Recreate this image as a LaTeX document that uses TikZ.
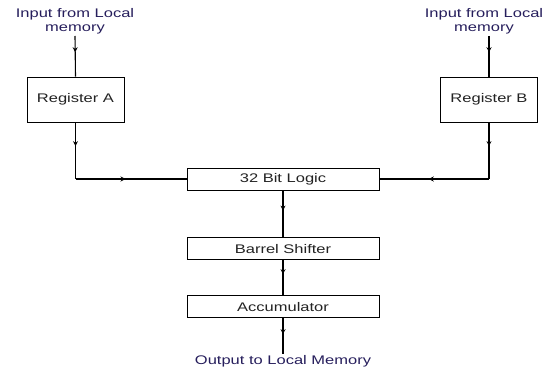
\documentclass[tikz,border=0pt]{standalone}
\usepackage{fontspec}
\setmainfont{Liberation Sans}
\usetikzlibrary{arrows.meta,decorations.markings,positioning}
\newcommand{\wtxt}[1]{\scalebox{1.32}[1]{#1}}
\definecolor{lblblue}{RGB}{38,30,92}
\definecolor{boxtext}{RGB}{35,35,35}

\begin{document}
\begin{tikzpicture}[x=1pt,y=1pt,line width=1.1pt,
                    midarrow/.style={postaction={decorate},decoration={markings,
                      mark=at position #1 with {\arrow{Stealth[length=5pt,width=5pt]}}}},
                    midarrow/.default=0.45]
  \tikzstyle{regbox}=[rectangle,draw=black,line width=0.8pt,fill=white,
                      minimum width=97pt,minimum height=45pt,inner sep=0pt,
                      font=\fontsize{12.5}{14}\selectfont,text=boxtext]
  \tikzstyle{unit}=[rectangle,draw=black,line width=0.8pt,fill=white,
                    minimum width=192pt,minimum height=22pt,inner sep=0pt,
                    font=\fontsize{12.5}{14}\selectfont,text=boxtext]
  \tikzstyle{lbl}=[align=center,inner sep=1pt,
                   font=\fontsize{12.5}{14}\selectfont,text=lblblue]

  \useasboundingbox (0,0) rectangle (545,373);

  \node[regbox] (A)      at (75.5,273.5)          {\wtxt{Register A}};
  \node[regbox] (B)      at (489,273.5)           {\wtxt{Register B}};
  \node[unit]   (logic)  at (283,194)             {\wtxt{32 Bit Logic}};
  \node[unit]   (barrel) [below=47pt of logic]    {\wtxt{Barrel Shifter}};
  \node[unit]   (acc)    [below=35pt of barrel]   {\wtxt{Accumulator}};

  \node[lbl,anchor=south] (inA) at (75,337)  {\wtxt{Input from Local}\\\wtxt{memory}};
  \node[lbl,anchor=south] (inB) at (484,337) {\wtxt{Input from Local}\\\wtxt{memory}};
  \node[lbl,anchor=north] (out) at (283,19)  {\wtxt{Output to Local Memory}};

  \coordinate (cA) at (A.south |- logic.west);
  \coordinate (cB) at (B.south |- logic.east);

  % inputs into the registers
  \draw[midarrow=0.4] (inA.south) -- (A.north);
  \draw[midarrow=0.4] (inB.south -| B.north) -- (B.north);
  % registers to the logic unit
  \draw[midarrow=0.42] (A.south) -- (cA);
  \draw[midarrow=0.45] (cA) -- (logic.west);
  \draw[midarrow=0.42] (B.south) -- (cB);
  \draw[midarrow=0.55] (cB) -- (logic.east);
  % down the chain
  \draw[midarrow=0.43] (logic) -- (barrel);
  \draw[midarrow=0.4]  (barrel) -- (acc);
  \draw[midarrow=0.45] (acc) -- (out);
\end{tikzpicture}
\end{document}
